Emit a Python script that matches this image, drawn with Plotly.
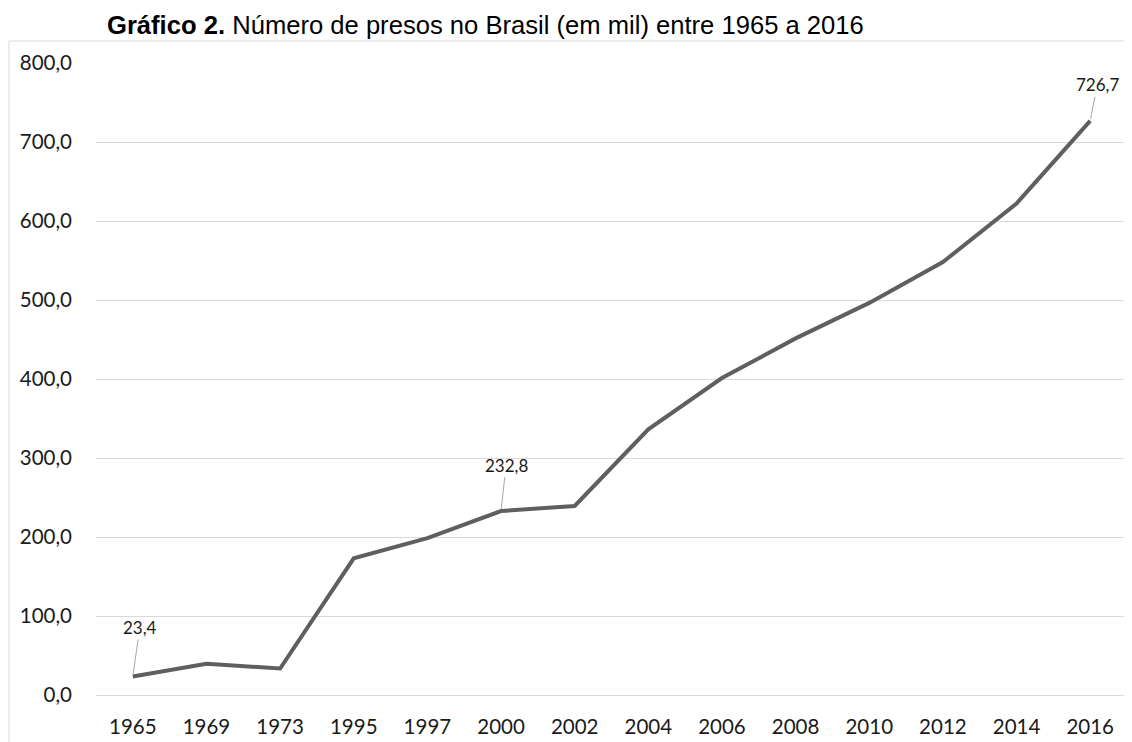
import plotly.graph_objects as go

years = ["1965", "1969", "1973", "1995", "1997", "2000", "2002", "2004", "2006", "2008", "2010", "2012", "2014", "2016"]
presos = [23.4, 39.5, 33.5, 173.0, 198.5, 232.8, 239.3, 336.4, 401.2, 451.4, 496.3, 548.0, 622.2, 726.7]
labeled = {"1965": (7, -49), "2000": (5, -46), "2016": (7, -36)}
y_ticks = [0, 100, 200, 300, 400, 500, 600, 700, 800]
y_tick_text = [f"{v:.1f}".replace(".", ",") for v in y_ticks]
title_bold = "Gráfico 2."
title_rest = " Número de presos no Brasil (em mil) entre 1965 a 2016"

idx = list(range(len(years)))

fig = go.Figure()
fig.add_trace(go.Scatter(
    x=idx, y=presos, mode="lines",
    line=dict(color="#5f5f5f", width=4),
    hoverinfo="skip", showlegend=False,
))

for yr, (ax, ay) in labeled.items():
    i = years.index(yr)
    v = presos[i]
    fig.add_annotation(
        x=i, y=v, xref="x", yref="y",
        text=f"{v:.1f}".replace(".", ","),
        showarrow=True, arrowhead=0, arrowwidth=1, arrowcolor="#a6a6a6",
        ax=ax, ay=ay, standoff=2,
        font=dict(family="Lato", size=17, color="#1a1a1a"),
    )

fig.add_annotation(
    xref="paper", yref="paper", x=0.0087, y=1.0601,
    xanchor="left", yanchor="middle", showarrow=False,
    text=f"<b>{title_bold}</b>{title_rest}",
    font=dict(family="Liberation Sans", size=25.6, color="#000000"),
)

fig.add_shape(
    type="rect", xref="paper", yref="paper",
    x0=-0.0844, x1=1.2, y0=-0.3, y1=1.0348,
    line=dict(color="#d9d9d9", width=1), fillcolor="rgba(0,0,0,0)", layer="below",
)

fig.update_layout(
    width=1132, height=742,
    margin=dict(l=88, r=13, t=55, b=55),
    paper_bgcolor="white", plot_bgcolor="white",
    font=dict(family="Lato", size=20.5, color="#1a1a1a"),
    xaxis=dict(
        range=[-0.5, len(years) - 0.5], tickvals=idx, ticktext=years,
        showgrid=False, showline=False, zeroline=False,
        ticks="", ticklabelstandoff=17, tickfont=dict(size=20.5),
    ),
    yaxis=dict(
        range=[0, 800], tickvals=y_ticks, ticktext=y_tick_text,
        showgrid=True, gridcolor="#d9d9d9", gridwidth=1,
        zeroline=True, zerolinecolor="#d9d9d9", zerolinewidth=1,
        showline=False, ticks="", ticklabelstandoff=23, tickfont=dict(size=20.5),
    ),
)

fig.write_html("out.html")
